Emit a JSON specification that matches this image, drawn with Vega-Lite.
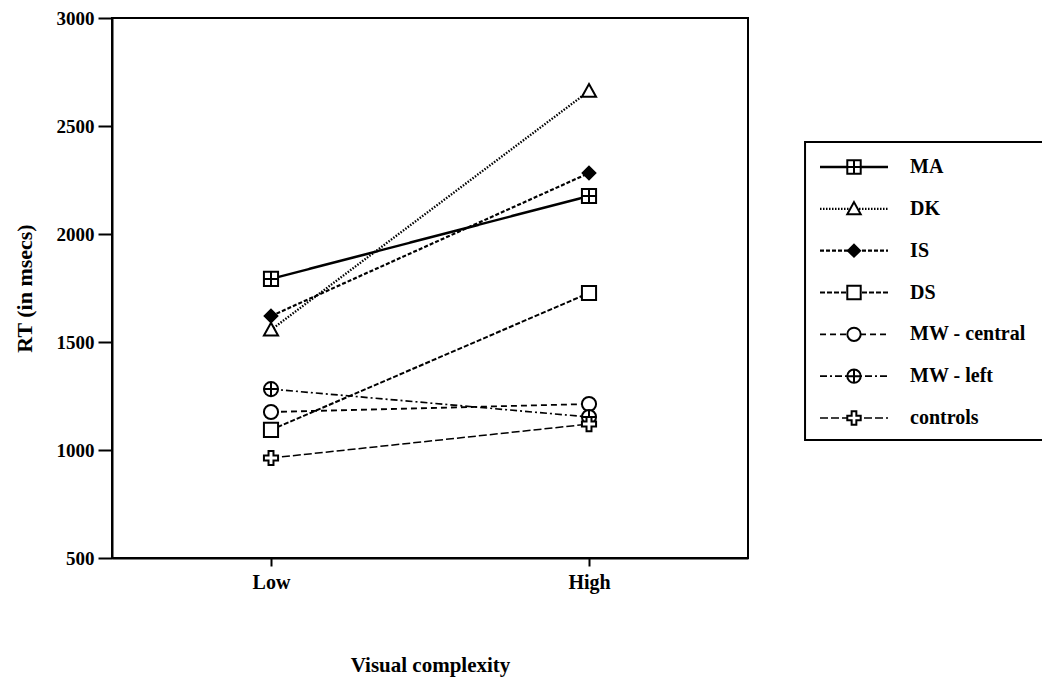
{
  "$schema": "https://vega.github.io/schema/vega-lite/v6.json",
  "width": 636,
  "height": 540,
  "autosize": "none",
  "padding": {"left": 112, "top": 18, "right": 294, "bottom": 125},
  "background": "white",
  "config": {
    "font": "Liberation Serif",
    "view": {"stroke": "black", "strokeWidth": 2},
    "axis": {
      "labelFont": "Liberation Serif",
      "labelFontWeight": "bold",
      "labelFontSize": 19,
      "labelColor": "black",
      "titleFont": "Liberation Serif",
      "titleFontWeight": "bold",
      "titleFontSize": 21,
      "titleColor": "black",
      "domainColor": "black",
      "domainWidth": 2,
      "tickColor": "black",
      "tickWidth": 2,
      "grid": false
    }
  },
  "data": {
    "values": [
      {"series": "MA", "complexity": "Low", "rt": 1792},
      {"series": "MA", "complexity": "High", "rt": 2176},
      {"series": "DK", "complexity": "Low", "rt": 1556},
      {"series": "DK", "complexity": "High", "rt": 2662},
      {"series": "IS", "complexity": "Low", "rt": 1620},
      {"series": "IS", "complexity": "High", "rt": 2282},
      {"series": "DS", "complexity": "Low", "rt": 1093},
      {"series": "DS", "complexity": "High", "rt": 1727},
      {"series": "MW - central", "complexity": "Low", "rt": 1176},
      {"series": "MW - central", "complexity": "High", "rt": 1213},
      {"series": "MW - left", "complexity": "Low", "rt": 1282},
      {"series": "MW - left", "complexity": "High", "rt": 1153},
      {"series": "controls", "complexity": "Low", "rt": 963},
      {"series": "controls", "complexity": "High", "rt": 1120}
    ]
  },
  "layer": [
    {
      "layer": [
        {
          "mark": {"type": "line", "color": "black"},
          "encoding": {
            "x": {"field": "complexity", "type": "ordinal", "scale": {"type": "point", "domain": ["Low", "High"], "padding": 0.5},
                  "axis": {"title": "Visual complexity", "labelAngle": 0, "tickSize": 8, "labelPadding": 6, "labelFontSize": 20, "titlePadding": 62}},
            "y": {"field": "rt", "type": "quantitative", "scale": {"domain": [500, 3000], "nice": false, "zero": false},
                  "axis": {"title": "RT (in msecs)", "titleFontSize": 22, "format": "d", "values": [500, 1000, 1500, 2000, 2500, 3000], "tickSize": 14, "labelPadding": 4, "labelFlush": false, "labelOverlap": false, "titlePadding": 20}},
            "detail": {"field": "series"},
            "strokeDash": {"field": "series", "type": "nominal", "legend": null,
              "scale": {"domain": ["MA", "DK", "IS", "DS", "MW - central", "MW - left", "controls"],
                        "range": [[1, 0], [1.5, 1.5], [4, 2], [5, 2], [6, 4], [7, 3, 2, 3], [8, 3]]}},
            "strokeWidth": {"field": "series", "type": "nominal", "legend": null,
              "scale": {"domain": ["MA", "DK", "IS", "DS", "MW - central", "MW - left", "controls"],
                        "range": [2.5, 1.5, 2, 2, 2, 2, 2.5]}}
          }
        },
        {
          "mark": {"type": "point", "stroke": "black", "strokeWidth": 2, "opacity": 1, "size": 200, "filled": false},
          "encoding": {
            "x": {"field": "complexity", "type": "ordinal", "scale": {"type": "point", "domain": ["Low", "High"], "padding": 0.5}},
            "y": {"field": "rt", "type": "quantitative", "scale": {"domain": [500, 3000], "nice": false, "zero": false}},
            "shape": {"field": "series", "type": "nominal", "legend": null,
              "scale": {"domain": ["MA", "DK", "IS", "DS", "MW - central", "MW - left", "controls"],
                        "range": [
                          "M-1,-1L1,-1L1,1L-1,1Z M0,-1L0,1 M-1,0L1,0",
                          "M0,-1L1,0.8L-1,0.8Z",
                          "M0,-0.9L0.9,0L0,0.9L-0.9,0Z",
                          "M-1,-1L1,-1L1,1L-1,1Z",
                          "M1,0A1,1,0,1,1,-1,0A1,1,0,1,1,1,0Z",
                          "M1,0A1,1,0,1,1,-1,0A1,1,0,1,1,1,0Z M0,-1L0,1 M-1,0L1,0",
                          "M-0.35,-1L0.35,-1L0.35,-0.35L1,-0.35L1,0.35L0.35,0.35L0.35,1L-0.35,1L-0.35,0.35L-1,0.35L-1,-0.35L-0.35,-0.35Z"
                        ]}},
            "fill": {"field": "series", "type": "nominal", "legend": null,
              "scale": {"domain": ["MA", "DK", "IS", "DS", "MW - central", "MW - left", "controls"],
                        "range": ["white", "white", "black", "white", "white", "white", "white"]}}
          }
        }
      ]
    },
    {
      "layer": [
        {
          "data": {"values": [{}]},
          "mark": {"type": "rect", "fill": "transparent", "stroke": "black", "strokeWidth": 2, "yOffset": -25, "y2Offset": 22},
          "encoding": {
            "x": {"datum": -0.44, "type": "quantitative", "scale": {"domain": [0, 2], "range": [708, 776]}, "axis": null},
            "x2": {"datum": 7.5},
            "y": {"datum": "MA", "type": "nominal", "scale": {"type": "point", "domain": ["MA", "DK", "IS", "DS", "MW - central", "MW - left", "controls"], "range": [149, 400], "padding": 0}, "axis": null},
            "y2": {"datum": "controls"}
          }
        },
        {
          "transform": [{"filter": "datum.complexity === 'Low'"}],
          "mark": {"type": "rule", "color": "black"},
          "encoding": {
            "x": {"datum": 0, "type": "quantitative", "scale": {"domain": [0, 2], "range": [708, 776]}, "axis": null},
            "x2": {"datum": 2},
            "y": {"field": "series", "type": "nominal", "scale": {"type": "point", "domain": ["MA", "DK", "IS", "DS", "MW - central", "MW - left", "controls"], "range": [149, 400], "padding": 0}, "axis": null},
            "strokeDash": {"field": "series", "type": "nominal", "legend": null},
            "strokeWidth": {"field": "series", "type": "nominal", "legend": null}
          }
        },
        {
          "transform": [{"filter": "datum.complexity === 'Low'"}],
          "mark": {"type": "point", "stroke": "black", "strokeWidth": 2, "opacity": 1, "size": 180, "filled": false},
          "encoding": {
            "x": {"datum": 1, "type": "quantitative", "scale": {"domain": [0, 2], "range": [708, 776]}, "axis": null},
            "y": {"field": "series", "type": "nominal", "scale": {"type": "point", "domain": ["MA", "DK", "IS", "DS", "MW - central", "MW - left", "controls"], "range": [149, 400], "padding": 0}, "axis": null},
            "shape": {"field": "series", "type": "nominal", "legend": null},
            "fill": {"field": "series", "type": "nominal", "legend": null}
          }
        },
        {
          "transform": [{"filter": "datum.complexity === 'Low'"}],
          "mark": {"type": "text", "align": "left", "baseline": "middle", "font": "Liberation Serif", "fontWeight": "bold", "fontSize": 20, "color": "black"},
          "encoding": {
            "x": {"datum": 2.65, "type": "quantitative", "scale": {"domain": [0, 2], "range": [708, 776]}, "axis": null},
            "y": {"field": "series", "type": "nominal", "scale": {"type": "point", "domain": ["MA", "DK", "IS", "DS", "MW - central", "MW - left", "controls"], "range": [149, 400], "padding": 0}, "axis": null},
            "text": {"field": "series"}
          }
        }
      ]
    }
  ],
  "resolve": {"scale": {"x": "independent", "y": "independent"}}
}
